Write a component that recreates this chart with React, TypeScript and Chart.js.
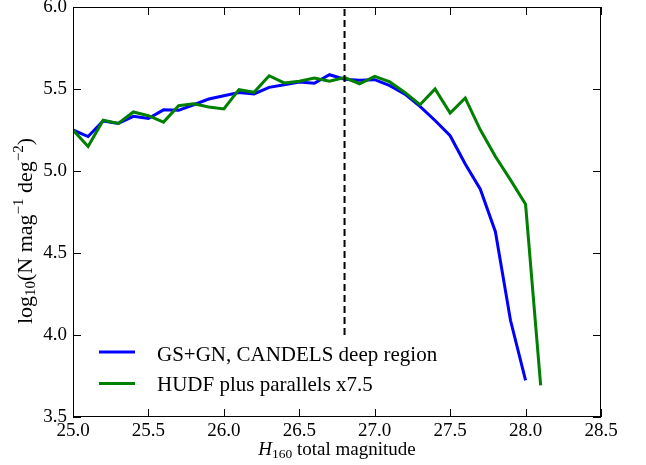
import React, { useEffect, useRef } from "react";
import { Chart, registerables } from "chart.js";

Chart.register(...registerables);

// ---- data ----
const magsBlue = [25.0, 25.1, 25.2, 25.3, 25.4, 25.5, 25.6, 25.7, 25.8, 25.9, 26.0, 26.1, 26.2, 26.3, 26.4, 26.5, 26.6, 26.7, 26.8, 26.9, 27.0, 27.1, 27.2, 27.3, 27.4, 27.5, 27.6, 27.7, 27.8, 27.9, 28.0];
const blueValues = [5.25, 5.21, 5.305, 5.29, 5.333, 5.32, 5.373, 5.37, 5.404, 5.439, 5.459, 5.479, 5.47, 5.51, 5.526, 5.543, 5.535, 5.587, 5.56, 5.553, 5.557, 5.52, 5.469, 5.394, 5.308, 5.215, 5.043, 4.889, 4.63, 4.09, 3.723];
const magsGreen = [25.0, 25.1, 25.2, 25.3, 25.4, 25.5, 25.6, 25.7, 25.8, 25.9, 26.0, 26.1, 26.2, 26.3, 26.4, 26.5, 26.6, 26.7, 26.8, 26.9, 27.0, 27.1, 27.2, 27.3, 27.4, 27.5, 27.6, 27.7, 27.8, 27.9, 28.0, 28.1];
const greenValues = [5.25, 5.149, 5.31, 5.29, 5.36, 5.337, 5.298, 5.398, 5.41, 5.39, 5.378, 5.496, 5.48, 5.581, 5.537, 5.547, 5.567, 5.547, 5.57, 5.532, 5.577, 5.543, 5.479, 5.404, 5.5, 5.353, 5.445, 5.251, 5.088, 4.946, 4.797, 3.693];
const cutMag = [26.8, 26.8];
const cutLevels = [4.0, 6.0];
const xTicks = [25.0, 25.5, 26.0, 26.5, 27.0, 27.5, 28.0, 28.5];
const yTicks = [3.5, 4.0, 4.5, 5.0, 5.5, 6.0];
const seriesLabels = ["GS+GN, CANDELS deep region", "HUDF plus parallels x7.5"];
const seriesColors = ["#0000ff", "#008000"];

const SERIF = '"Liberation Serif", "Times New Roman", serif';
const font = (size: number, italic = false) => `${italic ? "italic " : ""}${size}px ${SERIF}`;

type Seg = { t: string; size: number; dy: number; italic?: boolean };

function drawSegs(ctx: CanvasRenderingContext2D, segs: Seg[], cx: number, baseline: number) {
  let total = 0;
  for (const s of segs) {
    ctx.font = font(s.size, s.italic);
    total += ctx.measureText(s.t).width;
  }
  let x = cx - total / 2;
  ctx.textAlign = "left";
  ctx.textBaseline = "alphabetic";
  for (const s of segs) {
    ctx.font = font(s.size, s.italic);
    ctx.fillText(s.t, x, baseline + s.dy);
    x += ctx.measureText(s.t).width;
  }
}

const decorPlugin = {
  id: "decor",
  afterDatasetsDraw(chart: any) {
    const { ctx, chartArea: a, scales } = chart;
    const xs = scales.x;
    const ys = scales.y;
    ctx.save();
    ctx.strokeStyle = "#000";
    ctx.lineWidth = 1;
    // frame
    ctx.strokeRect(Math.round(a.left) + 0.5, Math.round(a.top) + 0.5, Math.round(a.right - a.left) - 1, Math.round(a.bottom - a.top) - 1);
    const tl = 8;
    ctx.beginPath();
    for (const v of xTicks) {
      const px = Math.round(xs.getPixelForValue(v)) + 0.5;
      ctx.moveTo(px, a.bottom);
      ctx.lineTo(px, a.bottom - tl);
      ctx.moveTo(px, a.top);
      ctx.lineTo(px, a.top + tl);
    }
    for (const v of yTicks) {
      const py = Math.round(ys.getPixelForValue(v)) + 0.5;
      ctx.moveTo(a.left, py);
      ctx.lineTo(a.left + tl, py);
      ctx.moveTo(a.right, py);
      ctx.lineTo(a.right - tl, py);
    }
    ctx.stroke();

    // legend
    const legY = [352, 383.5];
    const txtY = [361, 391];
    for (let i = 0; i < 2; i++) {
      ctx.strokeStyle = seriesColors[i];
      ctx.lineWidth = 3;
      ctx.beginPath();
      ctx.moveTo(99, legY[i]);
      ctx.lineTo(135, legY[i]);
      ctx.stroke();
      ctx.fillStyle = "#000";
      ctx.font = font(21);
      ctx.textAlign = "left";
      ctx.textBaseline = "alphabetic";
      ctx.fillText(seriesLabels[i], 157, txtY[i]);
    }

    // x title
    ctx.fillStyle = "#000";
    drawSegs(ctx, [
      { t: "H", size: 19, dy: 0, italic: true },
      { t: "160", size: 13.5, dy: 3 },
      { t: " total magnitude", size: 19, dy: 0 },
    ], (a.left + a.right) / 2, 455);

    // y title
    ctx.save();
    ctx.translate(32, 231);
    ctx.rotate(-Math.PI / 2);
    drawSegs(ctx, [
      { t: "log", size: 22, dy: 0 },
      { t: "10", size: 15, dy: 3 },
      { t: "(N mag", size: 22, dy: 0 },
      { t: "\u22121", size: 15, dy: -9 },
      { t: " deg", size: 22, dy: 0 },
      { t: "\u22122", size: 15, dy: -9 },
      { t: ")", size: 22, dy: 0 },
    ], 0, 0);
    ctx.restore();
    ctx.restore();
  },
};

export default function App() {
  const ref = useRef<HTMLCanvasElement | null>(null);
  useEffect(() => {
    document.body.style.margin = "0";
    const canvas = ref.current;
    if (!canvas) return;
    const chart = new Chart(canvas, {
      type: "line",
      data: {
        datasets: [
          {
            label: "cut",
            data: cutMag.map((x, i) => ({ x, y: cutLevels[i] })),
            borderColor: "#000",
            borderWidth: 2,
            borderDash: [7, 4],
            pointRadius: 0,
            order: 0,
          },
          {
            label: seriesLabels[1],
            data: magsGreen.map((x, i) => ({ x, y: greenValues[i] })),
            borderColor: seriesColors[1],
            borderWidth: 3,
            pointRadius: 0,
            tension: 0,
            order: 1,
          },
          {
            label: seriesLabels[0],
            data: magsBlue.map((x, i) => ({ x, y: blueValues[i] })),
            borderColor: seriesColors[0],
            borderWidth: 3,
            pointRadius: 0,
            tension: 0,
            order: 2,
          },
        ],
      },
      options: {
        animation: false,
        responsive: false,
        maintainAspectRatio: false,
        devicePixelRatio: 1,
        layout: { padding: { top: 7, right: 45, left: 0, bottom: 0 } },
        plugins: { legend: { display: false }, tooltip: { enabled: false } },
        scales: {
          x: {
            type: "linear",
            min: 25,
            max: 28.5,
            afterBuildTicks: (s: any) => { s.ticks = xTicks.map((v) => ({ value: v })); },
            afterFit: (s: any) => { s.height = 48; s.paddingLeft = 0; s.paddingRight = 0; },
            grid: { display: false, drawTicks: false },
            border: { display: false },
            ticks: {
              padding: 3,
              color: "#000",
              font: { family: SERIF, size: 19 },
              maxRotation: 0,
              autoSkip: false,
              callback: (v: any) => Number(v).toFixed(1),
            },
          },
          y: {
            type: "linear",
            min: 3.5,
            max: 6.0,
            afterBuildTicks: (s: any) => { s.ticks = yTicks.map((v) => ({ value: v })); },
            afterFit: (s: any) => { s.width = 73; s.paddingTop = 0; s.paddingBottom = 0; },
            grid: { display: false, drawTicks: false },
            border: { display: false },
            ticks: {
              padding: 6,
              color: "#000",
              font: { family: SERIF, size: 19 },
              autoSkip: false,
              callback: (v: any) => Number(v).toFixed(1),
            },
          },
        },
      },
      plugins: [decorPlugin],
    } as any);
    return () => chart.destroy();
  }, []);
  return (
    <div style={{ width: 646, height: 465, background: "#fff" }}>
      <canvas ref={ref} width={646} height={465} style={{ display: "block" }} />
    </div>
  );
}
